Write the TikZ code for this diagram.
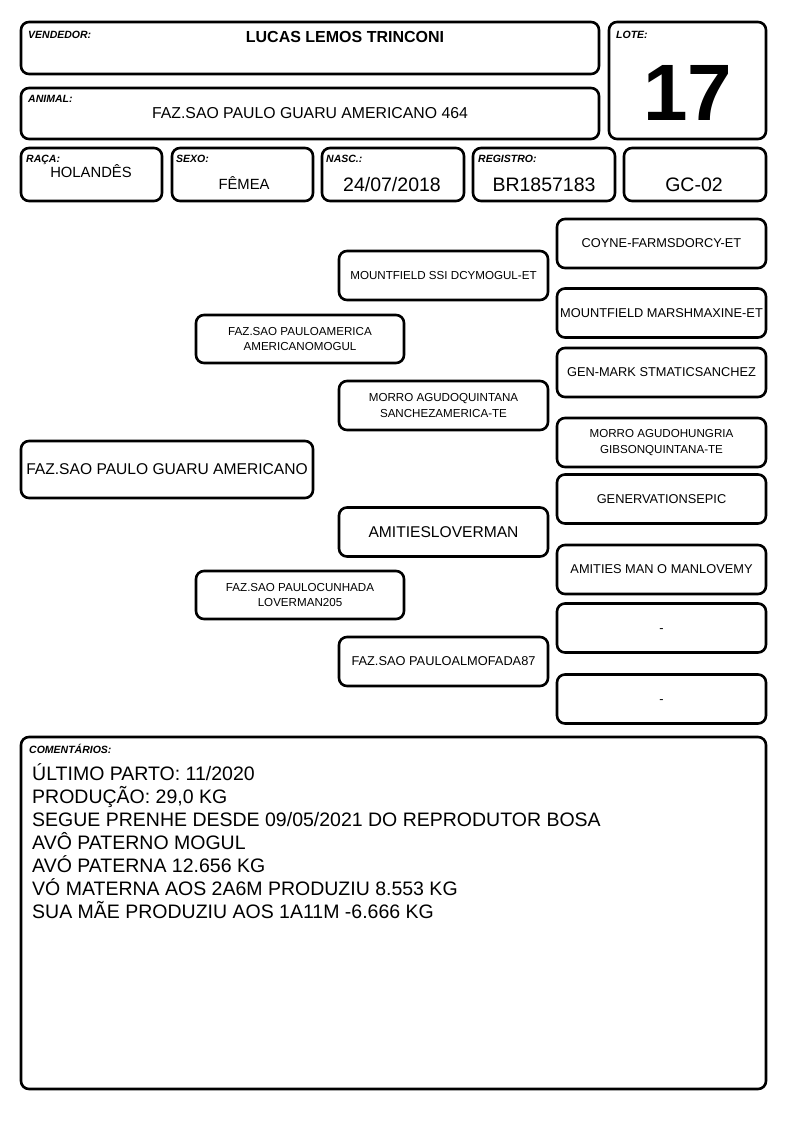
\documentclass[tikz,border=0pt]{standalone}
\usepackage{fontspec}
\setmainfont{Liberation Sans}
\tikzset{
	caixa/.style={draw,line width=2.6pt,rounded corners=8pt,inner sep=0pt,align=center},
	rotulo/.style={anchor=base west,inner sep=0pt,font=\fontsize{10.5}{12}\selectfont\bfseries\itshape},
	valor/.style={anchor=base,inner sep=0pt},
	nomeg/.style={font=\fontsize{15.6}{18}\selectfont},
	nome/.style={font=\fontsize{12.8}{15}\selectfont},
	nomep/.style={font=\fontsize{11.6}{15.5}\selectfont}
}
\begin{document}
\begin{tikzpicture}[x=1pt,y=-1pt]
	\useasboundingbox (0,0) rectangle (794,1123);
	\node[caixa,minimum width=578pt,minimum height=52pt] (vendedor) at (310,48) {};
	\node[caixa,minimum width=157pt,minimum height=117pt] (lote) at (687.5,80.5) {};
	\node[caixa,minimum width=578pt,minimum height=51pt] (animal) at (310,113.5) {};
	\node[caixa,minimum width=141pt,minimum height=53pt] (raca) at (91.5,174.5) {};
	\node[caixa,minimum width=141pt,minimum height=53pt] (sexo) at (242.5,174.5) {};
	\node[caixa,minimum width=142pt,minimum height=53pt] (nasc) at (393,174.5) {};
	\node[caixa,minimum width=142pt,minimum height=53pt] (registro) at (544,174.5) {};
	\node[caixa,minimum width=142pt,minimum height=53pt] (gc) at (695,174.5) {};

	\node[rotulo] (lvendedor) at (28,39) {VENDEDOR:};
	\node[rotulo] (llote) at (616,39) {LOTE:};
	\node[rotulo] (lanimal) at (28,103) {ANIMAL:};
	\node[rotulo] (lraca) at (26,163) {RAÇA:};
	\node[rotulo] (lsexo) at (176,163) {SEXO:};
	\node[rotulo] (lnasc) at (326,163) {NASC.:};
	\node[rotulo] (lregistro) at (478,163) {REGISTRO:};

	\node[valor,font=\fontsize{16}{18}\selectfont\bfseries] (tvendedor) at (345,43) {LUCAS LEMOS TRINCONI};
	\node[valor,font=\fontsize{80}{80}\selectfont\bfseries] (tlote) at (688,121) {17};
	\node[valor,font=\fontsize{15.8}{18}\selectfont] (tanimal) at (310,119) {FAZ.SAO PAULO GUARU AMERICANO 464};
	\node[valor,font=\fontsize{14.8}{17}\selectfont] (traca) at (91,178) {HOLANDÊS};
	\node[valor,font=\fontsize{14.8}{17}\selectfont] (tsexo) at (244,190) {FÊMEA};
	\node[valor,font=\fontsize{19.5}{22}\selectfont] (tnasc) at (392,192) {24/07/2018};
	\node[valor,font=\fontsize{19.5}{22}\selectfont] (tregistro) at (544,192) {BR1857183};
	\node[valor,font=\fontsize{19.5}{22}\selectfont] (tgc) at (694,192) {GC-02};

	\node[caixa,nomeg,minimum width=292pt,minimum height=57pt] (pai) at (167,469.5) {FAZ.SAO PAULO GUARU AMERICANO};
	\node[caixa,nomep,minimum width=208pt,minimum height=48pt] (avo1) at (300,339) {FAZ.SAO PAULOAMERICA\\AMERICANOMOGUL};
	\node[caixa,nomep,minimum width=208pt,minimum height=48pt] (avo2) at (300,595) {FAZ.SAO PAULOCUNHADA\\LOVERMAN205};
	\node[caixa,nomep,minimum width=209pt,minimum height=49pt] (bis1) at (443.5,275.5) {MOUNTFIELD SSI DCYMOGUL-ET};
	\node[caixa,nomep,minimum width=209pt,minimum height=49pt] (bis2) at (443.5,405.5) {MORRO AGUDOQUINTANA\\SANCHEZAMERICA-TE};
	\node[caixa,nomeg,minimum width=209pt,minimum height=49pt] (bis3) at (443.5,532) {AMITIESLOVERMAN};
	\node[caixa,nome,minimum width=209pt,minimum height=49pt] (bis4) at (443.5,661.5) {FAZ.SAO PAULOALMOFADA87};
	\node[caixa,nome,minimum width=209pt,minimum height=49pt] (tri1) at (661.5,243.5) {COYNE-FARMSDORCY-ET};
	\node[caixa,nome,minimum width=209pt,minimum height=49pt] (tri2) at (661.5,313) {MOUNTFIELD MARSHMAXINE-ET};
	\node[caixa,nome,minimum width=209pt,minimum height=49pt] (tri3) at (661.5,372.5) {GEN-MARK STMATICSANCHEZ};
	\node[caixa,nomep,minimum width=209pt,minimum height=49pt] (tri4) at (661.5,442.5) {MORRO AGUDOHUNGRIA\\GIBSONQUINTANA-TE};
	\node[caixa,nome,minimum width=209pt,minimum height=49pt] (tri5) at (661.5,499) {GENERVATIONSEPIC};
	\node[caixa,nome,minimum width=209pt,minimum height=49pt] (tri6) at (661.5,569.5) {AMITIES MAN O MANLOVEMY};
	\node[caixa,nome,minimum width=209pt,minimum height=49pt,text height=9pt,text depth=0pt] (tri7) at (661.5,628) {-};
	\node[caixa,nome,minimum width=209pt,minimum height=49pt,text height=9pt,text depth=0pt] (tri8) at (661.5,699) {-};

	\node[caixa,minimum width=745pt,minimum height=352pt] (comentarios) at (393.5,913) {};
	\node[rotulo] (lcomentarios) at (29,753) {COMENTÁRIOS:};
	\node[anchor=base west,inner sep=0pt,align=left,font=\fontsize{19.5}{23}\selectfont] (tcomentarios) at (32,918) {ÚLTIMO PARTO: 11/2020\\PRODUÇÃO: 29,0 KG\\SEGUE PRENHE DESDE 09/05/2021 DO REPRODUTOR BOSA\\AVÔ PATERNO MOGUL\\AVÓ PATERNA 12.656 KG\\VÓ MATERNA AOS 2A6M PRODUZIU 8.553 KG\\SUA MÃE PRODUZIU AOS 1A11M -6.666 KG};
\end{tikzpicture}
\end{document}
